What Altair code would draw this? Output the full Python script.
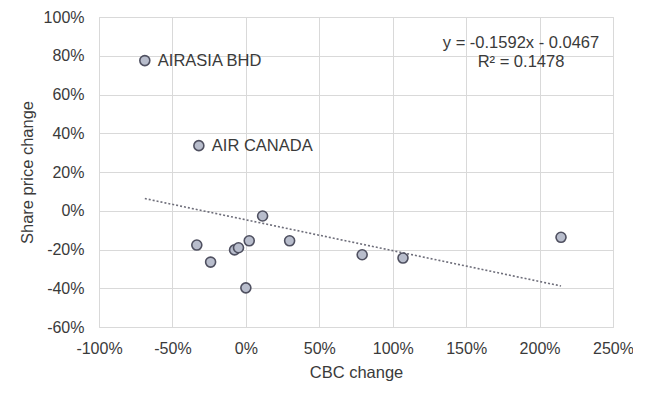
import altair as alt
import pandas as pd

# Data (fractions, shown as %)
names = ["AIRASIA BHD", "AIR CANADA", "", "", "", "", "", "", "", "", "", "", ""]
cbc_change = [-0.688, -0.32, -0.334, -0.24, -0.077, -0.05, 0.023, 0.114, 0.0, 0.298, 0.792, 1.07, 2.146]
share_change = [0.775, 0.336, -0.177, -0.265, -0.202, -0.191, -0.155, -0.027, -0.398, -0.155, -0.227, -0.244, -0.137]

slope = -0.1592
intercept = -0.0467
equation_text = "y = -0.1592x - 0.0467\nR² = 0.1478"

x_ticks = [-1.0, -0.5, 0.0, 0.5, 1.0, 1.5, 2.0, 2.5]
y_ticks = [-0.6, -0.4, -0.2, 0.0, 0.2, 0.4, 0.6, 0.8, 1.0]

df = pd.DataFrame({"name": names, "x": cbc_change, "y": share_change})
xmin, xmax = min(cbc_change), max(cbc_change)
trend = pd.DataFrame({"x": [xmin, xmax], "y": [slope * xmin + intercept, slope * xmax + intercept]})

FONT = "Liberation Sans"
TXT = "#3a3a3a"
LBL = "replace(format(datum.value, '.0%'), '\u2212', '-')"

xscale = alt.Scale(domain=[-1.0, 2.5], nice=False, zero=False)
yscale = alt.Scale(domain=[-0.6, 1.0], nice=False, zero=False)

xaxis = alt.Axis(title="CBC change", labelExpr=LBL, values=x_ticks, grid=True, gridColor="#d9d9d9",
                 domain=False, ticks=False, labelPadding=13, labelFontSize=16, labelColor=TXT,
                 labelOverlap=False, labelFlush=False, tickCount=8,
                 titleFontSize=16.5, titleColor=TXT, titleFontWeight="normal", titlePadding=8,
                 labelFont=FONT, titleFont=FONT)
yaxis = alt.Axis(title="Share price change", labelExpr=LBL, values=y_ticks, grid=True, gridColor="#d9d9d9",
                 domain=False, ticks=False, labelPadding=15, labelFontSize=16, labelColor=TXT,
                 labelOverlap=False, labelFlush=False, tickCount=9,
                 titleFontSize=16.5, titleColor=TXT, titleFontWeight="normal", titlePadding=8,
                 labelFont=FONT, titleFont=FONT)

X = alt.X("x:Q", scale=xscale, axis=xaxis)
Y = alt.Y("y:Q", scale=yscale, axis=yaxis)

line = alt.Chart(trend).mark_line(strokeDash=[2, 2], color="#6e6e7a", strokeWidth=1.6).encode(x=X, y=Y)

points = alt.Chart(df).mark_point(filled=True, shape="circle", size=100, fill="#b8bdcc",
                                  stroke="#4f5060", strokeWidth=1.6, opacity=1).encode(x=X, y=Y)

labels = alt.Chart(df).mark_text(align="left", baseline="middle", dx=13, fontSize=16.5,
                                 font=FONT, color=TXT).encode(x=X, y=Y, text="name:N")

eq = alt.Chart(pd.DataFrame({"t": [equation_text]})).mark_text(
    align="center", baseline="middle", lineBreak="\n", lineHeight=19, fontSize=16.5,
    font=FONT, color=TXT).encode(
    x=alt.value(422), y=alt.value(26), text="t:N"
)

chart = alt.layer(line, points, labels, eq).properties(
    width=514, height=310,
    autosize=alt.AutoSizeParams(type="none"),
    padding={"left": 91, "top": 9, "right": 20, "bottom": 60},
).configure_view(stroke="#d9d9d9").configure_axis(labelOverlap=False)

chart.save("out.html", embed_options={"renderer": "svg", "actions": False})
